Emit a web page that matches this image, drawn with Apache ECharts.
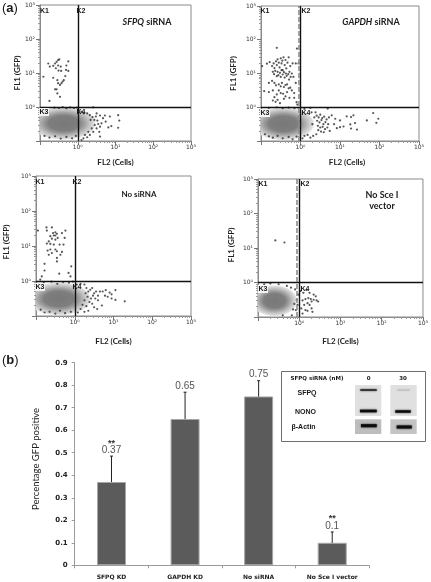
<!DOCTYPE html>
<html><head><meta charset="utf-8">
<style>html,body{margin:0;padding:0;background:#fff}#c{width:431px;height:582px;filter:blur(0.35px)}</style>
<script src="https://cdn.jsdelivr.net/npm/echarts@6/dist/echarts.min.js"></script>
</head><body><div id="c"></div>
<script>
// Flow cytometry events, stored as decades (log10 of FL2, log10 of FL1)
const sfpqDots = [[-.78,1.28],[-.74,1.19],[-.91,.89],[-.75,.18],[-.65,1.21],[-.6,1.28],[-.56,1.33],[-.52,1.38],[-.49,1.4],[-.58,1.14],[-.52,1.22],[-.45,1.19],[-.51,1.07],[-.44,1.06],[-.25,1.34],[-.3,1.22],[-.31,1.09],[-.25,1.06],[-.33,.91],[-.37,.79],[-.4,.75],[-.65,.86],[-.54,.79],[-.52,.7],[-.47,.65],[-.43,.7],[-.6,.52],[-.56,.52],[-.54,.4],[-.47,.3],
[1.07,-.24],[1.1,-.4],[1.07,-.61],[.85,-.28],[.72,-.25],[.89,-.56],[.81,-.6],[.74,-.43],[.59,-.25],[.5,-.19],[.41,-.01],[.32,-.24],[.25,-.19],[.59,-.58],[.57,-.73],[.59,-.87],[.45,-.53],[.5,-.63],[.41,-.73],[.32,-.82],[.25,-.89],[.15,-.92],[.1,-.97],[.19,-.82],[.28,-.73],[.37,-.63],[.44,-.38],[.52,-.4],[.63,-.48],[.54,-.5],[.48,-.28],[.39,-.3],[.34,-.38],[.67,-.33],[.1,-.14],[.16,-.19],
[-.62,-.02],[-.5,-.03],[-.4,0],[-.3,-.04],[-.2,-.01],[-.1,-.03],[-.02,-.02],[-.88,-.85],[-.75,-.9],[-.6,-.86],[-.45,-.93],[-.3,-.88],[-.15,-.92],[-.05,-.85]];
const gapdhDots = [[-.6,1.76],[-.09,1.74],[-.97,1.22],[-.85,1.29],[-.78,1.34],[-.72,1.22],[-.68,1.3],[-.66,1.16],[-.62,1.36],[-.6,1.25],[-.58,1.42],[-.55,1.32],[-.53,1.18],[-.5,1.45],[-.48,1.3],[-.46,1.38],[-.45,1.1],[-.43,1.48],[-.4,1.25],[-.38,1.4],[-.36,1.15],[-.33,1.32],[-.3,1.48],[-.28,1.05],[-.26,1.22],[-.22,1],[-.2,1.3],[-.12,1.3],
[-.7,1.05],[-.67,.98],[-.64,1.08],[-.6,.92],[-.58,1.05],[-.56,.95],[-.52,1.02],[-.5,.9],[-.48,1.1],[-.45,.97],[-.42,1.04],[-.4,.88],[-.37,1],[-.35,.93],[-.31,.98],[-.29,.82],[-.25,.9],[-.18,.9],
[-.72,.78],[-.8,.72],[-.66,.72],[-.62,.65],[-.55,.68],[-.5,.62],[-.47,.72],[-.42,.6],[-.38,.66],[-.34,.68],[-.3,.56],[-.26,.58],[-.22,.5],[-.16,.42],[-.16,.28],[-.12,.72],
[-.92,.48],[-.8,.45],[-.7,.5],[-.6,.38],[-.55,.5],[-.5,.42],[-.44,.4],[-.38,.32],[-.34,.45],[-.28,.28],[-.66,.3],[-.7,.2],[-.63,.16],[-.58,.22],[-.52,.12],[-.42,.25],[-.1,.15],[-.08,.08],[-.05,1.3],
[.41,-.25],[.46,-.3],[.5,-.22],[.55,-.32],[.6,-.28],[.66,-.36],[.72,-.3],[.42,-.4],[.48,-.45],[.53,-.38],[.58,-.5],[.63,-.44],[.7,-.5],[.44,-.55],[.5,-.6],[.56,-.58],[.62,-.65],[.68,-.6],[.74,-.7],[.45,-.68],[.52,-.72],[.59,-.74],[.35,-.3],[.3,-.5],[.25,-.02],[.1,-.05],[.28,-.15],[.38,-.15],[.69,-.04],[.79,-.24],[.88,-.34],[1,-.39],[1.17,-.27],[1.28,-.29],[1.34,-.24],[1.38,-.47],[1.43,-.66],[1.26,-.51],[1.28,-.63],[1,-.59],[1.09,-.57],[.85,-.5],[.92,-.62],[1.84,-.17],[1.68,-.39],[1.97,-.34],[1.92,-.46],[.1,-.85],[.18,-.82],[.25,-.9],[.32,-.85],[.05,-.92],[.4,-.8],
[-.8,-.02],[-.6,0],[-.45,-.03],[-.3,-.01],[-.15,-.03],[-.05,-.02],[-.9,-.8],[-.8,-.86],[-.7,-.9],[-.58,-.85],[-.45,-.92],[-.3,-.88],[-.2,-.95],[-.1,-.87]];
const noSirnaDots = [[-.95,1.44],[-.73,1.53],[-.59,1.53],[-.72,1.44],[-.24,1.44],[-.56,1.37],[-.5,1.39],[-.46,1.35],[-.54,1.3],[-.63,1.28],[-.59,1.21],[-.5,1.3],[-.44,1.23],[-.33,1.37],[-.26,1.23],[-.67,1.13],[-.72,1.07],[-.63,1.06],[-.5,1.18],[-.54,1.04],[-.39,1.04],[-.29,1.04],[-.7,.87],[-.63,.9],[-.59,.8],[-.5,.9],[-.46,.85],[-.37,.75],[-.33,.83],[-.67,.75],[-.46,.66],[-.46,.56],[-.78,.49],[-.78,.3],[-.85,.13],[-.89,.04],[-.4,.21],[-.16,.23],[-.11,.13],[-.09,.42],
[.05,-.1],[.15,-.08],[.25,-.1],[.3,-.2],[.35,-.3],[.4,-.25],[.45,-.2],[.5,-.35],[.55,-.3],[.6,-.42],[.65,-.3],[.28,-.35],[.33,-.45],[.42,-.5],[.47,-.42],[.53,-.5],[.6,-.55],[.38,-.6],[.45,-.65],[.5,-.75],[.25,-.55],[.3,-.72],[.35,-.85],[.25,-.88],[.15,-.8],[.08,-.9],[.2,-.68],[.72,-.3],[.8,-.26],[.85,-.45],[.9,-.33],[.95,-.5],[1.05,-.26],[1.05,-.54],[.95,-.38],[1.29,-.58],[.78,-.42],[.7,-.7],[.58,-.8],
[-.8,-.05],[-.6,-.02],[-.45,-.08],[-.3,-.03],[-.15,-.05],[-.05,-.02],[-.88,-.82],[-.78,-.9],[-.65,-.88],[-.5,-.93],[-.38,-.85],[-.25,-.92],[-.1,-.88]];
const noSceDots = [[-.58,1.22],[-.36,1.16],
[.03,-.25],[.1,-.3],[.18,-.22],[.25,-.3],[.35,-.35],[.4,-.4],[.42,-.52],[.28,-.48],[.22,-.45],[.35,-.5],[.15,-.48],[.08,-.52],[.3,-.55],[.46,-.55],[.2,-.6],[.12,-.65],[.25,-.65],[.3,-.75],[.05,-.75],[.15,-.8],[.2,-.82],[.32,-.85],[.08,-.9],[-.02,-.35],[-.06,-.5],[-.04,-.65],[-.08,-.8],[-.12,-.62],[-.15,-.78],[-.1,-.2],[-.2,-.15],[-.3,-.1],[-.5,-.05],[-.7,-.03],[-.85,-.05],[-.18,-.95],[-.4,-.95]];
// Anchor of the dense event cloud in each panel (decades)
const sfpqCloud = [[-.11,-.48]];
const gapdhCloud = [[-.19,-.49]];
const noSirnaCloud = [[-.15,-.51]];
const noSceCloud = [[-.43,-.53]];
// Gate positions (FL2, FL1 value)
const gateValue = 1;
const logTicks = [0.1,1,10,100,1000];
const tickLabels = ['', '10⁰', '10¹', '10²', '10³'];

// Bar chart
const categories = ['SFPQ KD','GAPDH KD','No siRNA','No Sce I vector'];
const gfpPositive = [0.37,0.65,0.75,0.1];
const errorLow = [0.258,0.531,0.68,0.054];
const errorHigh = [0.485,0.769,0.82,0.148];
const significance = ['**','','','**'];

const dec = pts => pts.map(p => [Math.pow(10,p[0]), Math.pow(10,p[1])]);
const tickFmt = v => { const i = logTicks.findIndex(t => Math.abs(t-v) < t*0.01); return i<0?'':tickLabels[i]; };

const panels = [
 {g:{left:40,top:5,width:151,height:136}, dots:sfpqDots, cloud:sfpqCloud, sz:[67,34], gapX:19, gapY:17, yShift:0},
 {g:{left:261,top:6,width:158,height:135}, dots:gapdhDots, cloud:gapdhCloud, sz:[64,34], gapX:24, gapY:17, shift:14, yShift:0, dash:0.89},
 {g:{left:36,top:176,width:155,height:140}, dots:noSirnaDots, cloud:noSirnaCloud, sz:[66,34], gapX:26, gapY:21, yShift:8},
 {g:{left:258,top:179,width:166,height:138}, dots:noSceDots, cloud:noSceCloud, sz:[47,32], gapX:23, gapY:20, yShift:6, dash:0.89}
];
const cloudFill = {type:'radial',x:.35,y:.5,r:.5,colorStops:[
  {offset:0,color:'#787878'},{offset:.45,color:'#7e7e7e'},{offset:.6,color:'#9b9b9b'},
  {offset:.78,color:'#c4c4c4'},{offset:.93,color:'#e2e2e2'},{offset:1,color:'rgba(255,255,255,0)'}]};

const grid=[], xAxis=[], yAxis=[], series=[];
const axisFont = {fontFamily:'DejaVu Sans',fontSize:6,color:'#333'};
const axisCommon = {
  type:'log', logBase:10, min:0.1, max:1000, splitNumber:4,
  axisLine:{show:true,onZero:false,lineStyle:{color:'#8a8a8a',width:1}},
  axisTick:{show:true,length:4,lineStyle:{color:'#777'}},
  minorTick:{show:true,splitNumber:9,length:2,lineStyle:{color:'#999'}},
  splitLine:{show:false}, minorSplitLine:{show:false},
  nameLocation:'middle'
};
const nameFont = {fontFamily:'Lato',fontWeight:'bold',fontSize:8,color:'#222'};
panels.forEach((p,i)=>{
  grid.push(Object.assign({show:true,borderColor:'#8a8a8a',borderWidth:1,backgroundColor:'#fff'},p.g));
  xAxis.push(Object.assign({},axisCommon,{gridIndex:i,name:'FL2 (Cells)',nameGap:p.gapY,
    nameTextStyle:Object.assign({},nameFont,p.shift?{padding:[0,0,0,p.shift]}:{}),
    axisLabel:Object.assign({margin:3,formatter:tickFmt,showMinLabel:true},axisFont)}));
  yAxis.push(Object.assign({},axisCommon,{gridIndex:i,name:'FL1 (GFP)',nameGap:p.gapX,nameRotate:90,
    nameTextStyle:Object.assign({},nameFont,p.yShift?{padding:[0,0,0,p.yShift]}:{}),
    axisLabel:Object.assign({margin:5,formatter:tickFmt},axisFont)}));
  const base = {type:'scatter',xAxisIndex:i,yAxisIndex:i,silent:true};
  series.push(Object.assign({},base,{data:dec(p.cloud),symbol:'rect',symbolSize:p.sz,itemStyle:{color:cloudFill,opacity:1}}));
  series.push(Object.assign({},base,{data:dec(p.dots),symbolSize:2.2,itemStyle:{color:'#2d2d2d'}}));
  const lines=[{xAxis:gateValue,lineStyle:{color:'#111',width:1.4,type:'solid'}},
               {yAxis:gateValue,lineStyle:{color:'#111',width:1.4,type:'solid'}}];
  if(p.dash) lines.push({xAxis:p.dash,lineStyle:{color:'#8c8c8c',width:1.6,type:[5,2]}});
  series.push(Object.assign({},base,{data:[],markLine:{silent:true,symbol:'none',label:{show:false},animation:false,data:lines}}));
});

// bar chart
grid.push({left:74.7,top:362.7,width:294.3,height:202.6});
xAxis.push({type:'category',gridIndex:4,data:categories,
  axisLine:{show:true,lineStyle:{color:'#9a9a9a'}},axisTick:{show:true,length:3,lineStyle:{color:'#9a9a9a'}},
  axisLabel:{margin:9,interval:0,fontFamily:'DejaVu Sans',fontWeight:'bold',fontSize:6,color:'#222'}});
yAxis.push({type:'value',gridIndex:4,min:0,max:0.9,interval:0.1,name:'Percentage GFP positive',nameLocation:'middle',nameGap:34,
  nameTextStyle:{fontFamily:'Lato',fontSize:9.5,color:'#222',padding:[0,0,0,10]},
  axisLine:{show:true,lineStyle:{color:'#9a9a9a'}},axisTick:{show:true,length:3,lineStyle:{color:'#9a9a9a'}},splitLine:{show:false},
  axisLabel:{margin:7,formatter:v=>String(+v.toFixed(1)),fontFamily:'DejaVu Sans',fontWeight:'bold',fontSize:7,color:'#222'}});
series.push({type:'bar',xAxisIndex:4,yAxisIndex:4,data:gfpPositive,barWidth:29,silent:true,
  itemStyle:{color:'#5b5b5b',borderColor:'#a6a6a6',borderWidth:1}});
series.push({type:'custom',xAxisIndex:4,yAxisIndex:4,silent:true,
  data:categories.map((c,i)=>[i,errorLow[i],errorHigh[i],gfpPositive[i]]),
  encode:{x:0,y:[1,2]},
  renderItem(params,api){
    const i=api.value(0), lo=api.coord([i,api.value(1)]), hi=api.coord([i,api.value(2)]);
    const st={stroke:'#222',lineWidth:1}, cap=1.5;
    const kids=[
      {type:'line',shape:{x1:lo[0],y1:lo[1],x2:hi[0],y2:hi[1]},style:st},
      {type:'line',shape:{x1:lo[0]-cap,y1:lo[1],x2:lo[0]+cap,y2:lo[1]},style:st},
      {type:'line',shape:{x1:hi[0]-cap,y1:hi[1],x2:hi[0]+cap,y2:hi[1]},style:st},
      {type:'text',style:{text:String(api.value(3)),x:hi[0],y:hi[1]-6,align:'center',verticalAlign:'middle',
        font:'10px "Liberation Sans"',fill:'#555'}}
    ];
    if(significance[i]) kids.push({type:'text',style:{text:significance[i],x:hi[0],y:hi[1]-13,align:'center',verticalAlign:'middle',
        font:'bold 9px "Liberation Sans"',fill:'#333'}});
    return {type:'group',children:kids};
  }});

// Annotations
const T=(text,x,y,font,extra)=>({type:'text',silent:true,z:20,style:Object.assign({text,x,y,font,fill:'#1a1a1a',align:'center',verticalAlign:'middle'},extra||{})});
const R=(x,y,width,height,fill,extra)=>Object.assign({type:'rect',silent:true,z:20,shape:{x,y,width,height},style:{fill}},extra||{});
const band=(x,y,w,h,c)=>R(x,y-h/2,w,h,c||'#0c0c0c',{style:{fill:c||'#0c0c0c',shadowBlur:2,shadowColor:c||'#0c0c0c'}});
const K='bold 7px "Liberation Sans"';
const kpos=[[44.5,11,81,112,44],[265,11,306,113,265],[40,182,77,287,40],[263,184,305,289,263]];
const graphicEls=[];
kpos.forEach(k=>{
  graphicEls.push(T('K1',k[0],k[1],K),T('K2',k[2],k[1],K),
    R(k[4]-5,k[3]-4,10,8,'#f4f4f4'),T('K3',k[4],k[3],K),T('K4',k[2],k[3],K));
});
const ital={fontStyle:'italic',fontWeight:'bold',fontFamily:'Lato',fontSize:9,fill:'#1a1a1a'};
graphicEls.push(
  {type:'text',silent:true,z:20,style:{text:'{i|SFPQ} siRNA',x:147,y:22,align:'center',verticalAlign:'middle',font:'bold 9px Lato',fill:'#1a1a1a',rich:{i:ital}}},
  {type:'text',silent:true,z:20,style:{text:'{i|GAPDH} siRNA',x:371,y:22,align:'center',verticalAlign:'middle',font:'bold 9px Lato',fill:'#1a1a1a',rich:{i:ital}}},
  T('No siRNA',139,194,'bold 8px Lato'),
  T('No Sce I',382,195,'bold 9px Lato'),T('vector',382,206,'bold 9px Lato'),
  {type:'text',silent:true,z:20,style:{text:'({b|a})',x:2,y:8,align:'left',verticalAlign:'middle',font:'13px "Liberation Sans"',fill:'#1a1a1a',rich:{b:{fontWeight:'bold',fontSize:13,fontFamily:'Liberation Sans',fill:'#1a1a1a'}}}},
  {type:'text',silent:true,z:20,style:{text:'({b|b})',x:2,y:360,align:'left',verticalAlign:'middle',font:'13px "Liberation Sans"',fill:'#1a1a1a',rich:{b:{fontWeight:'bold',fontSize:13,fontFamily:'Liberation Sans',fill:'#1a1a1a'}}}},
  // western blot inset
  R(281.5,371.5,144,70,'#fff',{style:{fill:'#fff',stroke:'#6e6e6e',lineWidth:1}}),
  T('SFPQ siRNA (nM)',317,379,'bold 5.5px "DejaVu Sans"'),
  T('0',368.7,379,'bold 5.5px "DejaVu Sans"'),T('30',403,379,'bold 5.5px "DejaVu Sans"'),
  T('SFPQ',297.5,393,'bold 7px "Liberation Sans"',{align:'left'}),
  T('NONO',295,411.7,'bold 7px "Liberation Sans"',{align:'left'}),
  T('β-Actin',291.5,426.7,'bold 7px "Liberation Sans"',{align:'left'}),
  R(355,385,26.3,31,'#e0e0e0'),R(390.3,385,26.4,31,'#e0e0e0'),
  R(355,419.3,26.3,14.7,'#bdbdbd'),R(390.3,419.3,26.4,14.7,'#c4c4c4'),
  band(360.3,390,16.4,1.5,'#222'),band(360,411,16.7,2.6),band(361,425.7,15.7,3),
  band(397,390,13,0.8,'#b4b4b4'),band(395.3,411.5,15.4,2.4),band(396.7,427,15,3)
);

const chart=echarts.init(document.getElementById('c'),null,{renderer:'canvas',width:431,height:582});
chart.setOption({animation:false,backgroundColor:'#fff',grid,xAxis,yAxis,series,graphic:{elements:graphicEls}});
</script></body></html>
